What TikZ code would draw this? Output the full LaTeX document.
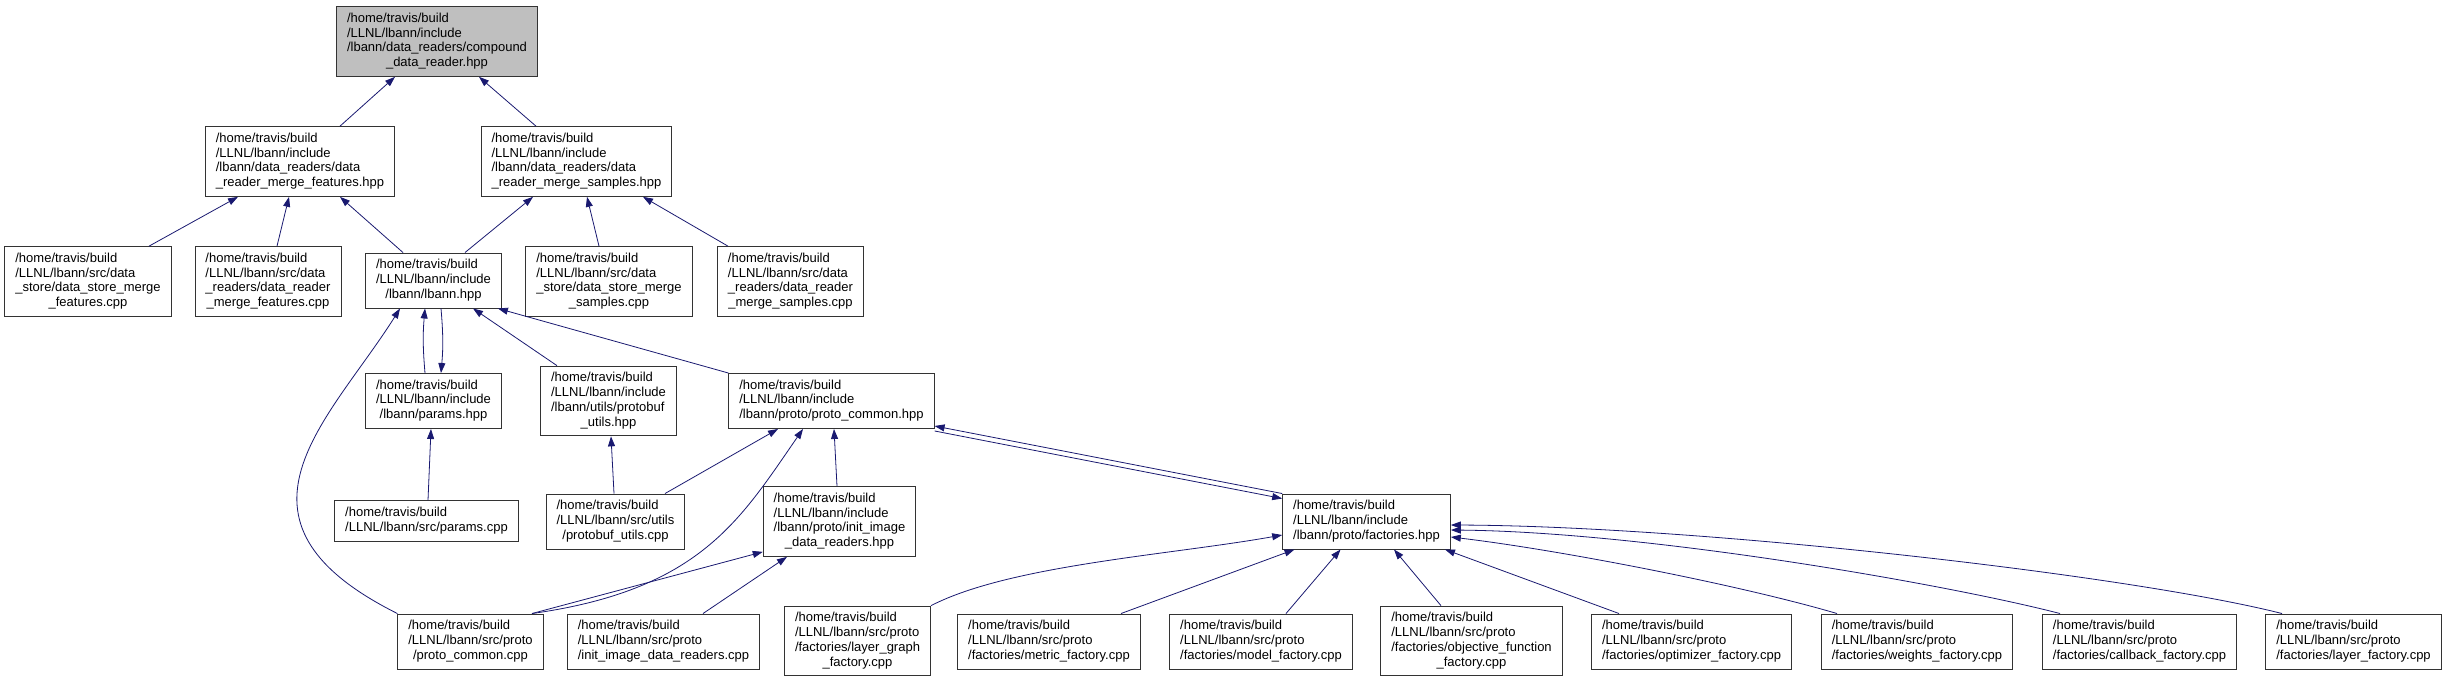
\documentclass[tikz,border=0pt]{standalone}
\usepackage{fontspec}
\setsansfont{Liberation Sans}
\usepackage{xcolor}
\usepackage{tikz}
\usetikzlibrary{arrows.meta, calc}
\definecolor{edgeblue}{HTML}{191970}
\definecolor{rootfill}{HTML}{BFBFBF}
\definecolor{boxline}{HTML}{333333}
\newcommand{\flab}[2]{\begin{tabular}{@{}l@{}}#1\\\multicolumn{1}{@{}c@{}}{#2}\end{tabular}}

\begin{document}
\begin{tikzpicture}[
  x=1pt, y=-1pt,
  font=\sffamily\fontsize{13}{14.75}\selectfont,
  fb/.style={draw=boxline, line width=0.9pt, fill=white, inner xsep=10.5pt, inner ysep=5.4pt},
  arr/.style={-{Triangle[length=10pt, width=7pt]}, edgeblue, line width=0.8pt}]
\useasboundingbox (0,0) rectangle (2449,683);

\node[fb, fill=rootfill](comp) at (437,41.5) {\flab{/home/travis/build\\/LLNL/lbann/include\\/lbann/data\_readers/compound}{\_data\_reader.hpp}};
\node[fb](mfh) at (300,161.5) {\flab{/home/travis/build\\/LLNL/lbann/include\\/lbann/data\_readers/data}{\_reader\_merge\_features.hpp}};
\node[fb](msh) at (576.5,161.5) {\flab{/home/travis/build\\/LLNL/lbann/include\\/lbann/data\_readers/data}{\_reader\_merge\_samples.hpp}};
\node[fb](dsmf) at (88,281.5) {\flab{/home/travis/build\\/LLNL/lbann/src/data\\\_store/data\_store\_merge}{\_features.cpp}};
\node[fb](drmf) at (268,281.5) {\flab{/home/travis/build\\/LLNL/lbann/src/data\\\_readers/data\_reader}{\_merge\_features.cpp}};
\node[fb](lbh) at (433.5,280.5) {\flab{/home/travis/build\\/LLNL/lbann/include}{/lbann/lbann.hpp}};
\node[fb](dsms) at (609,281.5) {\flab{/home/travis/build\\/LLNL/lbann/src/data\\\_store/data\_store\_merge}{\_samples.cpp}};
\node[fb](drms) at (790.5,281.5) {\flab{/home/travis/build\\/LLNL/lbann/src/data\\\_readers/data\_reader}{\_merge\_samples.cpp}};
\node[fb](parh) at (433.5,401) {\flab{/home/travis/build\\/LLNL/lbann/include}{/lbann/params.hpp}};
\node[fb](pbh) at (608.5,401) {\flab{/home/travis/build\\/LLNL/lbann/include\\/lbann/utils/protobuf}{\_utils.hpp}};
\node[fb](pch) at (831.5,401) {\flab{/home/travis/build\\/LLNL/lbann/include}{/lbann/proto/proto\_common.hpp}};
\node[fb](parc) at (426.5,521) {\flab{/home/travis/build}{/LLNL/lbann/src/params.cpp}};
\node[fb](pbc) at (615.5,521.5) {\flab{/home/travis/build\\/LLNL/lbann/src/utils}{/protobuf\_utils.cpp}};
\node[fb](iih) at (839.5,521.5) {\flab{/home/travis/build\\/LLNL/lbann/include\\/lbann/proto/init\_image}{\_data\_readers.hpp}};
\node[fb](fah) at (1366.5,521.5) {\flab{/home/travis/build\\/LLNL/lbann/include}{/lbann/proto/factories.hpp}};
\node[fb](pcc) at (470.5,641.5) {\flab{/home/travis/build\\/LLNL/lbann/src/proto}{/proto\_common.cpp}};
\node[fb](iic) at (663.5,641.5) {\flab{/home/travis/build\\/LLNL/lbann/src/proto}{/init\_image\_data\_readers.cpp}};
\node[fb](lgf) at (857.5,641) {\flab{/home/travis/build\\/LLNL/lbann/src/proto\\/factories/layer\_graph}{\_factory.cpp}};
\node[fb](mef) at (1049,641.5) {\flab{/home/travis/build\\/LLNL/lbann/src/proto}{/factories/metric\_factory.cpp}};
\node[fb](mof) at (1261,641.5) {\flab{/home/travis/build\\/LLNL/lbann/src/proto}{/factories/model\_factory.cpp}};
\node[fb](obf) at (1471.5,641) {\flab{/home/travis/build\\/LLNL/lbann/src/proto\\/factories/objective\_function}{\_factory.cpp}};
\node[fb](opf) at (1691.5,641.5) {\flab{/home/travis/build\\/LLNL/lbann/src/proto}{/factories/optimizer\_factory.cpp}};
\node[fb](wef) at (1917,641.5) {\flab{/home/travis/build\\/LLNL/lbann/src/proto}{/factories/weights\_factory.cpp}};
\node[fb](caf) at (2139.5,641.5) {\flab{/home/travis/build\\/LLNL/lbann/src/proto}{/factories/callback\_factory.cpp}};
\node[fb](laf) at (2353.5,641.5) {\flab{/home/travis/build\\/LLNL/lbann/src/proto}{/factories/layer\_factory.cpp}};

\foreach \frm/\fs/\tto/\ts in {mfh/40/comp/-42, msh/-40.5/comp/42, dsmf/61/mfh/-62, drmf/9/mfh/-11,
  lbh/-30.5/mfh/40, lbh/31.5/msh/-43.5, dsms/-10/msh/10.5, drms/-62.5/msh/66.5,
  pbh/-51.5/lbh/39.5, parc/1.5/parh/-2.5, pbc/-1.5/pbh/2.5, pbc/49.5/pch/-53.5,
  iih/-2.5/pch/2.5, iic/39.5/iih/-52.5, mef/72/fah/-72, mof/25/fah/-26,
  obf/-30.5/fah/27.5, opf/-72.5/fah/78.5}
  {\draw[arr]([xshift=\fs pt]\frm.north)--([xshift=\ts pt]\tto.south);}

\draw[arr]([xshift=-8.5pt]parh.north) to[bend left=5] ([xshift=-8.5pt]lbh.south);
\draw[arr]([xshift=7.5pt]lbh.south) to[bend left=5] ([xshift=7.5pt]parh.north);
\draw[arr](pcc.north west) .. controls (210,520) and (330,420) .. ([xshift=-33.5pt]lbh.south);
\draw[arr](pch.north west)--([xshift=-4pt]lbh.south east);
\draw[arr]([xshift=61.5pt]pcc.north) .. controls (700,590) and (740,520) .. ([xshift=-28.5pt]pch.south);
\draw[arr]([xshift=61.5pt]pcc.north)--([yshift=5pt]iih.south west);
\draw[arr](fah.north west)--([yshift=3pt]pch.south east);
\draw[arr]([yshift=-2pt]pch.south east)--([yshift=-5pt]fah.north west);
\draw[arr](lgf.north east) .. controls (1010,565) and (1170,555) .. ([yshift=-13.5pt]fah.west);
\draw[arr]([xshift=-80pt]wef.north) .. controls (1740,585) and (1560,550) .. ([yshift=-15.5pt]fah.east);
\draw[arr]([xshift=-79.5pt]caf.north) .. controls (1950,585) and (1650,532) .. ([yshift=-8.5pt]fah.east);
\draw[arr]([xshift=-71.5pt]laf.north) .. controls (2130,575) and (1700,526) .. ([yshift=-3.5pt]fah.east);

\end{tikzpicture}
\end{document}
